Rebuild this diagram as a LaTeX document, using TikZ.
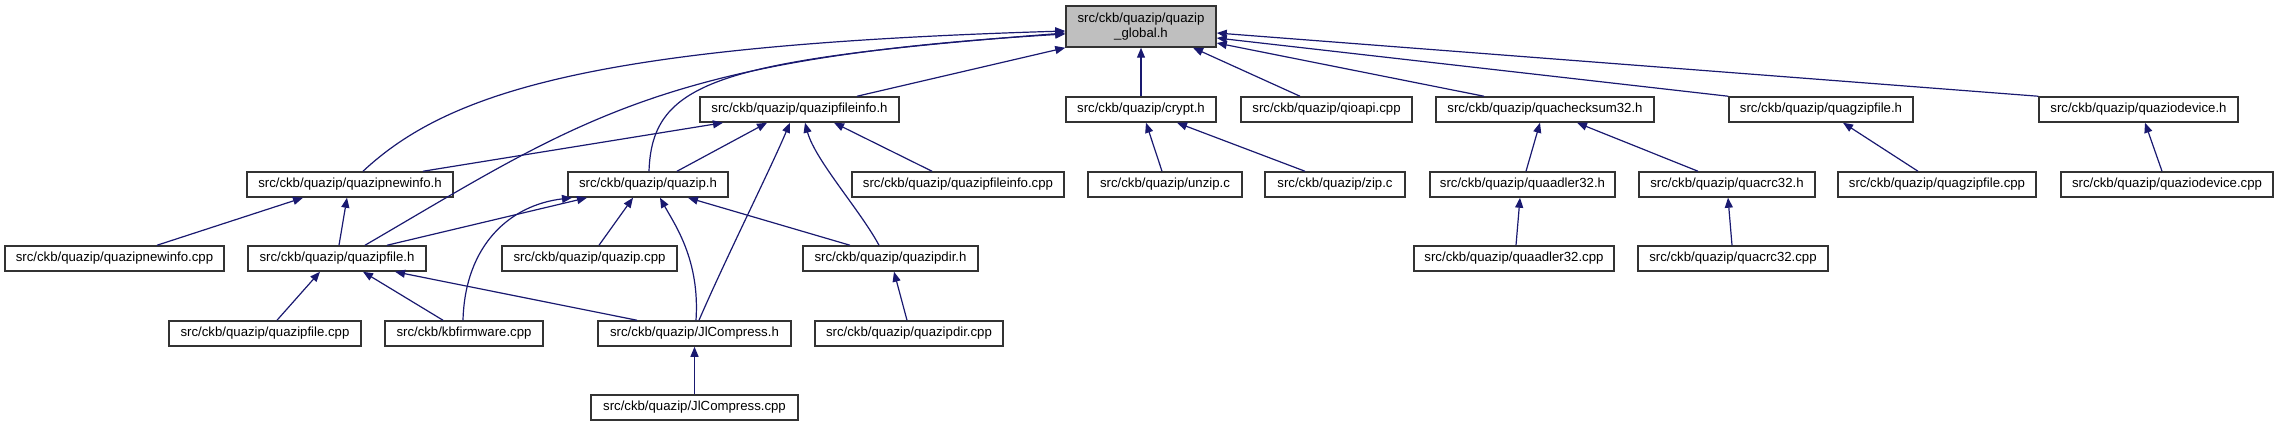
\documentclass[tikz,border=0pt]{standalone}
\usepackage{fontspec}
\setmainfont{Liberation Sans}
\usetikzlibrary{arrows.meta}
\definecolor{edgeblue}{HTML}{191970}
\definecolor{rootgray}{HTML}{BFBFBF}
\tikzset{
  fbox/.style={draw=black!80, line width=1.5pt, fill=white, inner sep=0pt,
    minimum height=25pt, font=\fontsize{13.2}{15}\selectfont, anchor=center},
  rootbox/.style={fbox, fill=rootgray, minimum height=41pt, align=center,
    font=\fontsize{13.2}{14.5}\selectfont},
  edge/.style={draw=edgeblue, line width=1.2pt,
    -{Triangle[length=10pt,width=8pt]}}
}
\begin{document}
\begin{tikzpicture}[x=1pt,y=-1pt]
\useasboundingbox (0,0) rectangle (2277,427);
% root
\node[rootbox, minimum width=150pt] (G) at (1141,26.5) {src/ckb/quazip/quazip\\\_global.h};
% level 1
\node[fbox, minimum width=199pt] (FI) at (799.5,109.5) {src/ckb/quazip/quazipfileinfo.h};
\node[fbox, minimum width=150pt] (CR) at (1141,109.5) {src/ckb/quazip/crypt.h};
\node[fbox, minimum width=171pt] (QIOAPI) at (1326.5,109.5) {src/ckb/quazip/qioapi.cpp};
\node[fbox, minimum width=218pt] (QC) at (1545,109.5) {src/ckb/quazip/quachecksum32.h};
\node[fbox, minimum width=184pt] (QGZ) at (1821,109.5) {src/ckb/quazip/quagzipfile.h};
\node[fbox, minimum width=199pt] (QIO) at (2138.5,109.5) {src/ckb/quazip/quaziodevice.h};
% level 2
\node[fbox, minimum width=206pt] (NI) at (350,184.5) {src/ckb/quazip/quazipnewinfo.h};
\node[fbox, minimum width=160pt] (QZ) at (648,184.5) {src/ckb/quazip/quazip.h};
\node[fbox, minimum width=212pt] (FICPP) at (958,184.5) {src/ckb/quazip/quazipfileinfo.cpp};
\node[fbox, minimum width=154pt] (UNZ) at (1165,184.5) {src/ckb/quazip/unzip.c};
\node[fbox, minimum width=140pt] (ZIP) at (1335,184.5) {src/ckb/quazip/zip.c};
\node[fbox, minimum width=185pt] (QA) at (1522.5,184.5) {src/ckb/quazip/quaadler32.h};
\node[fbox, minimum width=176pt] (QCRC) at (1727,184.5) {src/ckb/quazip/quacrc32.h};
\node[fbox, minimum width=198pt] (QGZCPP) at (1937,184.5) {src/ckb/quazip/quagzipfile.cpp};
\node[fbox, minimum width=212pt] (QIOCPP) at (2167,184.5) {src/ckb/quazip/quaziodevice.cpp};
% level 3
\node[fbox, minimum width=219pt] (NICPP) at (114.5,258.5) {src/ckb/quazip/quazipnewinfo.cpp};
\node[fbox, minimum width=178pt] (QF) at (337,258.5) {src/ckb/quazip/quazipfile.h};
\node[fbox, minimum width=175pt] (QZCPP) at (589.5,258.5) {src/ckb/quazip/quazip.cpp};
\node[fbox, minimum width=175pt] (QD) at (890.5,258.5) {src/ckb/quazip/quazipdir.h};
\node[fbox, minimum width=200pt] (QACPP) at (1514,258.5) {src/ckb/quazip/quaadler32.cpp};
\node[fbox, minimum width=190pt] (QCRCCPP) at (1733,258.5) {src/ckb/quazip/quacrc32.cpp};
% level 4
\node[fbox, minimum width=192pt] (QFCPP) at (265,333.5) {src/ckb/quazip/quazipfile.cpp};
\node[fbox, minimum width=158pt] (KB) at (464,333.5) {src/ckb/kbfirmware.cpp};
\node[fbox, minimum width=193pt] (JLC) at (694.5,333.5) {src/ckb/quazip/JlCompress.h};
\node[fbox, minimum width=188pt] (QDCPP) at (909,333.5) {src/ckb/quazip/quazipdir.cpp};
% level 5
\node[fbox, minimum width=207pt] (JLCCPP) at (694.5,407.5) {src/ckb/quazip/JlCompress.cpp};

% edges to root
\draw[edge] (363,0 |- NI.north) .. controls (450,90) and (600,45) .. (G.west |- 0,31);
\draw[edge] (365,0 |- QF.north) .. controls (580,120) and (660,58) .. (G.west |- 0,34);
\draw[edge] (649,0 |- QZ.north) .. controls (652,80) and (720,60) .. (G.west |- 0,33);
\draw[edge] (857,0 |- FI.north) -- (G.south west);
\draw[edge] (CR.north) -- (G.south);
\draw[edge] (1300,0 |- QIOAPI.north) -- (1193,0 |- G.south);
\draw[edge] (1484,0 |- QC.north) -- (G.east |- 0,43);
\draw[edge] (QGZ.north west) -- (G.east |- 0,38);
\draw[edge] (QIO.north west) -- (G.east |- 0,33);
% edges to quazipfileinfo.h
\draw[edge] (423,0 |- NI.north) -- (723,0 |- FI.south);
\draw[edge] (677,0 |- QZ.north) -- (767,0 |- FI.south);
\draw[edge] (699,0 |- JLC.north) .. controls (725,260) and (770,170) .. (790,0 |- FI.south);
\draw[edge] (879,0 |- QD.north) .. controls (860,210) and (815,160) .. (805,0 |- FI.south);
\draw[edge] (932,0 |- FICPP.north) -- (834,0 |- FI.south);
% edges to quazip.h
\draw[edge] (387,0 |- QF.north) -- (587,0 |- QZ.south);
\draw[edge] (463,0 |- KB.north) .. controls (465,245) and (510,205) .. (572,0 |- QZ.south);
\draw[edge] (599,0 |- QZCPP.north) -- (633,0 |- QZ.south);
\draw[edge] (696,0 |- JLC.north) .. controls (700,260) and (675,225) .. (660,0 |- QZ.south);
\draw[edge] (850,0 |- QD.north) -- (688,0 |- QZ.south);
% edges to quazipfile.h
\draw[edge] (277,0 |- QFCPP.north) -- (320,0 |- QF.south);
\draw[edge] (443,0 |- KB.north) -- (363,0 |- QF.south);
\draw[edge] (637,0 |- JLC.north) -- (395,0 |- QF.south);
% edges to quazipnewinfo.h
\draw[edge] (157,0 |- NICPP.north) -- (303,0 |- NI.south);
\draw[edge] (339,0 |- QF.north) -- (347,0 |- NI.south);
% others
\draw[edge] (JLCCPP.north) -- (JLC.south);
\draw[edge] (907,0 |- QDCPP.north) -- (894,0 |- QD.south);
\draw[edge] (1162,0 |- UNZ.north) -- (1146,0 |- CR.south);
\draw[edge] (1305,0 |- ZIP.north) -- (1177,0 |- CR.south);
\draw[edge] (1526,0 |- QA.north) -- (1540,0 |- QC.south);
\draw[edge] (1698,0 |- QCRC.north) -- (1577,0 |- QC.south);
\draw[edge] (1918,0 |- QGZCPP.north) -- (1843,0 |- QGZ.south);
\draw[edge] (2162,0 |- QIOCPP.north) -- (2145,0 |- QIO.south);
\draw[edge] (1516,0 |- QACPP.north) -- (1520,0 |- QA.south);
\draw[edge] (1732,0 |- QCRCCPP.north) -- (1728,0 |- QCRC.south);
\end{tikzpicture}
\end{document}
